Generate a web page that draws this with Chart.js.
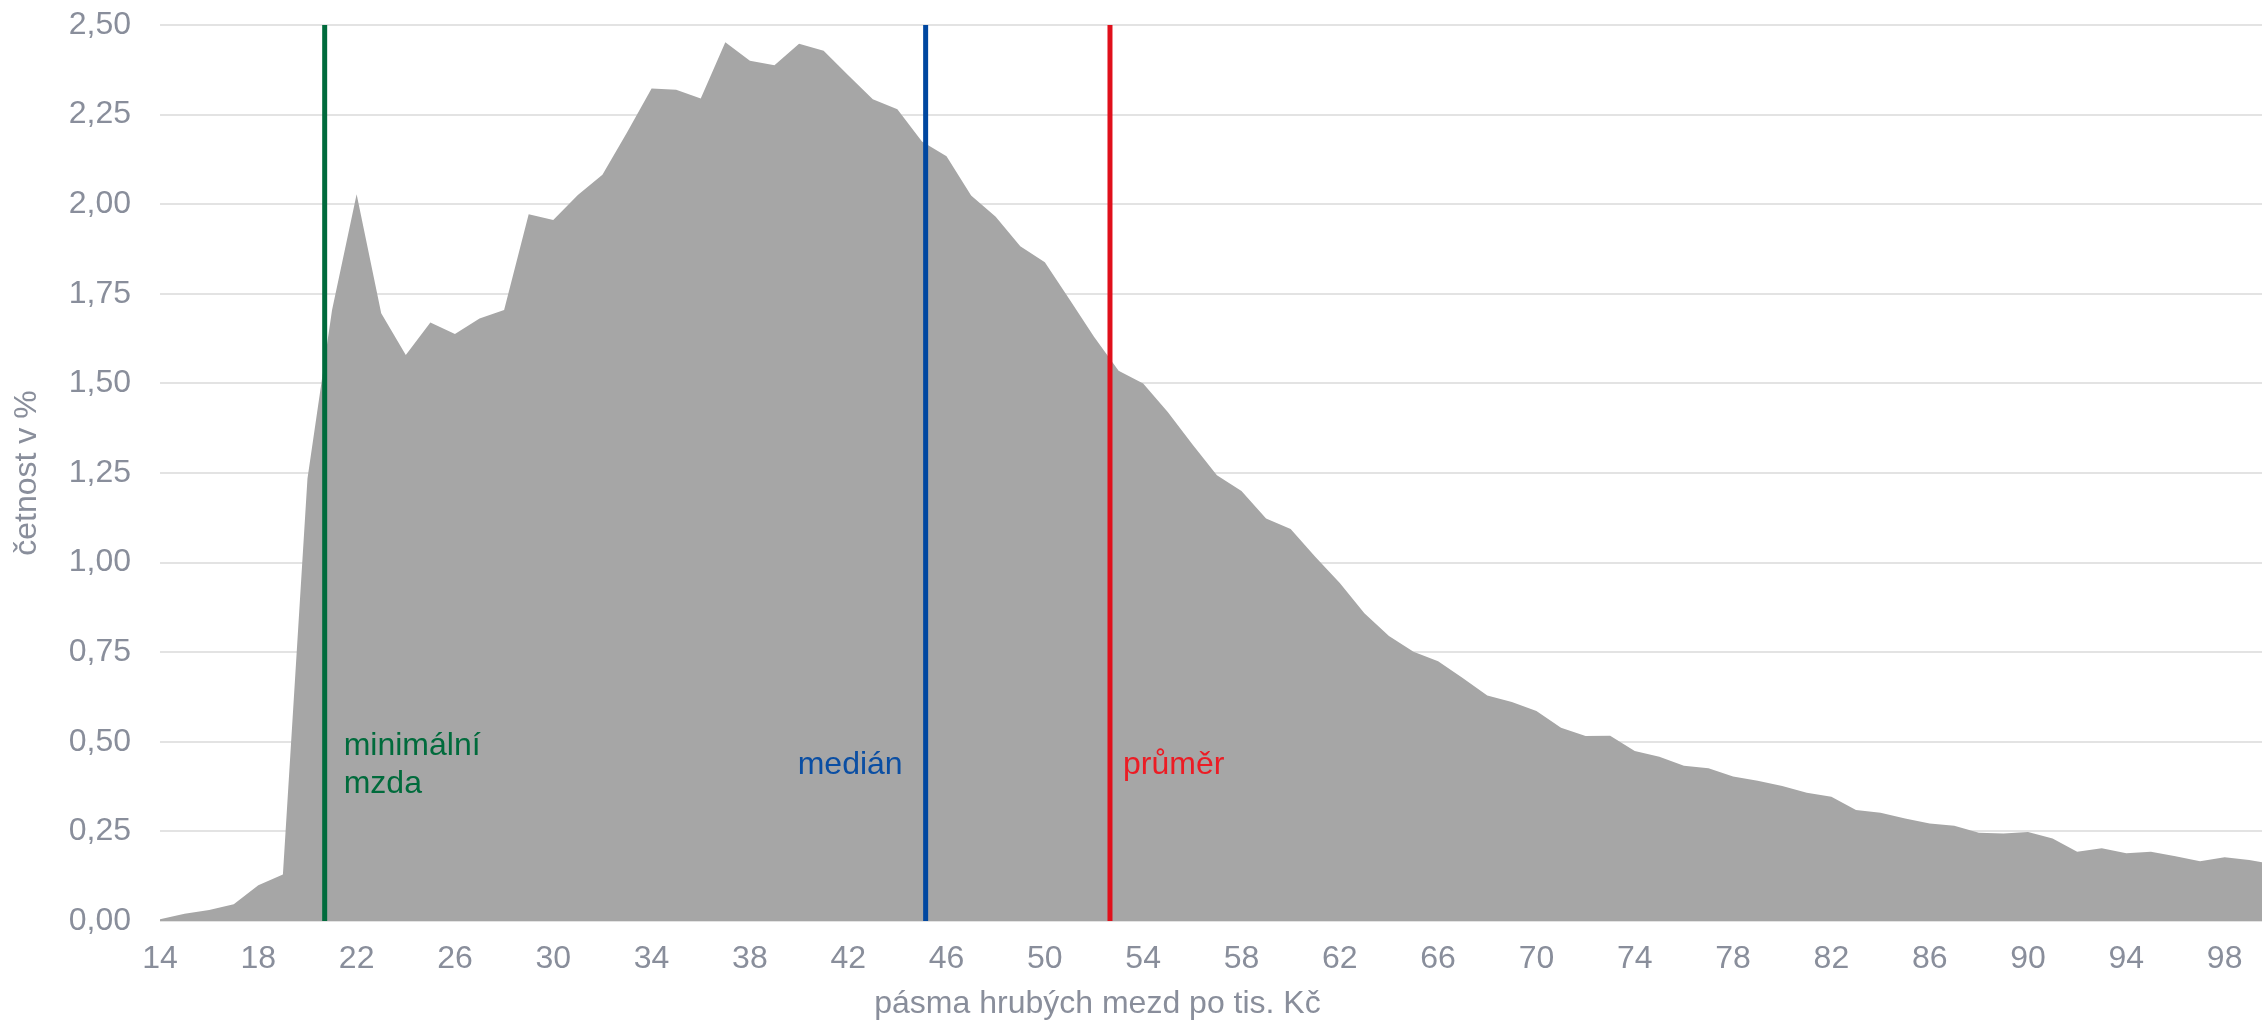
<!DOCTYPE html>
<html lang="cs">
<head>
<meta charset="utf-8">
<title>Rozdělení hrubých mezd</title>
<script src="https://cdn.jsdelivr.net/npm/chart.js@4.4.1/dist/chart.umd.min.js"></script>
<style>
  html, body { margin: 0; padding: 0; background: #fff; overflow: hidden; }
  #obal { width: 2262px; height: 1022px; position: relative; }
</style>
</head>
<body>
<div id="obal"><canvas id="graf"></canvas></div>
<script>
'use strict';
/* Rozdělení zaměstnanců podle pásem hrubé mzdy */

// pásma hrubých mezd (tis. Kč)
const pasma = [
  14, 15, 16, 17, 18, 19, 20, 21, 22, 23, 24, 25, 26, 27, 28, 29, 30, 31, 32, 33,
  34, 35, 36, 37, 38, 39, 40, 41, 42, 43, 44, 45, 46, 47, 48, 49, 50, 51, 52, 53,
  54, 55, 56, 57, 58, 59, 60, 61, 62, 63, 64, 65, 66, 67, 68, 69, 70, 71, 72, 73,
  74, 75, 76, 77, 78, 79, 80, 81, 82, 83, 84, 85, 86, 87, 88, 89, 90, 91, 92, 93,
  94, 95, 96, 97, 98, 99, 100,
];

// četnost v %
const cetnost = [
  0.005, 0.020, 0.031, 0.047, 0.100, 0.130, 1.235, 1.705, 2.028, 1.696,
  1.579, 1.670, 1.638, 1.681, 1.705, 1.972, 1.956, 2.026, 2.082, 2.200,
  2.323, 2.319, 2.295, 2.452, 2.400, 2.388, 2.448, 2.428, 2.360, 2.293,
  2.265, 2.175, 2.134, 2.024, 1.965, 1.883, 1.838, 1.735, 1.630, 1.535,
  1.500, 1.420, 1.330, 1.244, 1.200, 1.123, 1.094, 1.016, 0.943, 0.859,
  0.795, 0.751, 0.725, 0.678, 0.629, 0.611, 0.586, 0.539, 0.516, 0.517,
  0.474, 0.458, 0.433, 0.426, 0.403, 0.391, 0.377, 0.358, 0.347, 0.310,
  0.302, 0.286, 0.272, 0.266, 0.246, 0.244, 0.248, 0.230, 0.193, 0.203,
  0.189, 0.193, 0.181, 0.167, 0.178, 0.170, 0.158,
];

// popisky osy x
const tickyX = [14, 18, 22, 26, 30, 34, 38, 42, 46, 50, 54, 58, 62, 66, 70, 74, 78, 82, 86, 90, 94, 98];

// svislé značky: minimální mzda, medián, průměr
const znackyHodnoty = [20.7, 45.15, 52.65];
const znackyPopisky = [['minimální', 'mzda'], ['medián'], ['průměr']];

const SEDA_TEXT = '#898e9b';
const PISMO = "'Liberation Sans', Arial, sans-serif";
Chart.defaults.font.family = PISMO;

const stylyZnacek = [
  { cara: '#006b3c', text: '#006b3c', zarovnani: 'left', dx: 19 },
  { cara: '#0047a0', text: '#0a4ea3', zarovnani: 'right', dx: -23 },
  { cara: '#e0101b', text: '#ec1c24', zarovnani: 'left', dx: 13 },
];

// ── Svislé čáry s popisky + popisek osy x ──
const znacky = {
  id: 'znacky',
  afterDatasetsDraw(chart) {
    const { ctx, chartArea: a, scales: { x, y } } = chart;
    const zaklad = y.getPixelForValue(0.41);
    ctx.save();
    ctx.font = `32px ${PISMO}`;
    ctx.textBaseline = 'alphabetic';
    znackyHodnoty.forEach((h, i) => {
      const s = stylyZnacek[i];
      const px = x.getPixelForValue(h);
      ctx.strokeStyle = s.cara;
      ctx.lineWidth = 5;
      ctx.beginPath();
      ctx.moveTo(px, y.getPixelForValue(2.5));
      ctx.lineTo(px, y.getPixelForValue(0));
      ctx.stroke();

      ctx.fillStyle = s.text;
      ctx.textAlign = s.zarovnani;
      const radky = znackyPopisky[i];
      radky.forEach((r, j) => ctx.fillText(r, px + s.dx, zaklad + (j - (radky.length - 1) / 2) * 38));
    });

    ctx.fillStyle = SEDA_TEXT;
    ctx.textAlign = 'center';
    ctx.fillText('pásma hrubých mezd po tis. Kč', a.left + a.width * 0.446, chart.height - 9);
    ctx.restore();
  },
};

new Chart(document.getElementById('graf'), {
  type: 'line',
  data: {
    datasets: [{
      data: pasma.map((p, i) => ({ x: p, y: cetnost[i] })),
      fill: 'origin',
      backgroundColor: '#a6a6a6',
      borderColor: '#a6a6a6',
      borderWidth: 0,
      pointRadius: 0,
      tension: 0,
    }],
  },
  options: {
    responsive: true, maintainAspectRatio: false, animation: false,
    layout: { padding: { top: 25, right: 0, bottom: 0, left: 0 } },
    plugins: { legend: { display: false }, tooltip: { enabled: false } },
    scales: {
      x: {
        type: 'linear', min: 14, max: 99.52,
        afterBuildTicks: s => { s.ticks = tickyX.map(v => ({ value: v })); },
        afterFit: s => { s.height = 101; },
        grid: { display: false, drawTicks: false },
        border: { display: false },
        ticks: {
          color: SEDA_TEXT, font: { size: 32 }, padding: 19,
          maxRotation: 0, autoSkip: false, callback: v => String(v),
        },
      },
      y: {
        min: 0, max: 2.5,
        // pevná šířka osy, okraj nahoře/dole řídí layout.padding
        afterFit: s => { s.width = 160; s.paddingTop = 0; s.paddingBottom = 0; },
        grid: { color: '#e3e3e3', lineWidth: 2, drawTicks: false },
        border: { display: false },
        ticks: {
          stepSize: 0.25, color: SEDA_TEXT, font: { size: 32 }, padding: 29,
          callback: v => v.toFixed(2).replace('.', ','),
        },
        title: {
          display: true, text: 'četnost v %', color: SEDA_TEXT,
          font: { size: 32 }, padding: { top: 8, bottom: 0 },
        },
      },
    },
  },
  plugins: [znacky],
});
</script>
</body>
</html>
